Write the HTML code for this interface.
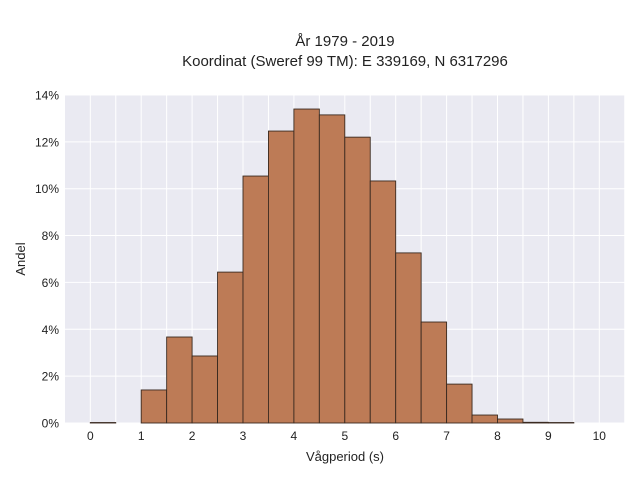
<!DOCTYPE html>
<html><head><meta charset="utf-8"><style>
body{margin:0;background:#fff;}
svg{display:block;font-family:"Liberation Sans",sans-serif;}
</style></head><body>
<svg id="chart" width="640" height="480">
<text x="345" y="46" text-anchor="middle" font-size="15" fill="#222">År 1979 - 2019</text>
<text x="345" y="66" text-anchor="middle" font-size="15" fill="#222">Koordinat (Sweref 99 TM): E 339169, N 6317296</text>
<rect x="65" y="95" width="560" height="328" fill="#eaeaf2"/>
<g id="grid"></g><g id="bars"></g><g id="axes"></g>
<text x="345" y="461" text-anchor="middle" font-size="13" fill="#222">Vågperiod (s)</text>
<text x="25" y="259" text-anchor="middle" font-size="13" fill="#222" transform="rotate(-90 25 259)">Andel</text>
</svg>
<script>
const binStarts=[0,0.5,1,1.5,2,2.5,3,3.5,4,4.5,5,5.5,6,6.5,7,7.5,8,8.5,9,9.5];
const shares=[0.02,0,1.41,3.67,2.86,6.44,10.54,12.46,13.4,13.15,12.2,10.33,7.26,4.31,1.66,0.34,0.17,0.03,0.02,0];
const xTicks=[0,1,2,3,4,5,6,7,8,9,10];
const yTicks=[0,2,4,6,8,10,12,14];
const binWidth=0.5;
const NS='http://www.w3.org/2000/svg';
const X=v=>90.3+v*50.9;
const Y=v=>423-v*23.43;
const grid=document.getElementById('grid'),bars=document.getElementById('bars'),axes=document.getElementById('axes');
function mk(tag,at,parent){const e=document.createElementNS(NS,tag);for(const k in at)e.setAttribute(k,at[k]);parent.appendChild(e);return e;}
for(let v=-0.5;v<=10.5;v+=0.5){const x=X(v);if(x<65||x>625)continue;
const l=mk('line',{x1:x,x2:x,y1:95,y2:423,stroke:'#fff','stroke-width':1},grid);

}
yTicks.forEach(t=>{const l=mk('line',{x1:65,x2:625,y1:Y(t),y2:Y(t),stroke:'#fff','stroke-width':1},grid);


const tx=mk('text',{x:59,y:Y(t)+4.5,'text-anchor':'end','font-size':12,fill:'#222'},axes);tx.textContent=t+'%';

});
xTicks.forEach(t=>{const tx=mk('text',{x:X(t),y:440,'text-anchor':'middle','font-size':12,fill:'#222'},axes);tx.textContent=t;

});
binStarts.forEach((s,i)=>{const v=shares[i];if(v<=0)return;const x0=X(s),x1=X(s+binWidth),y=Y(v);
const r=mk('rect',{x:x0,y:y,width:x1-x0,height:423-y,fill:'#bd7b56',stroke:'#3a2a20','stroke-width':0.9},bars);

});
</script>
</body></html>
